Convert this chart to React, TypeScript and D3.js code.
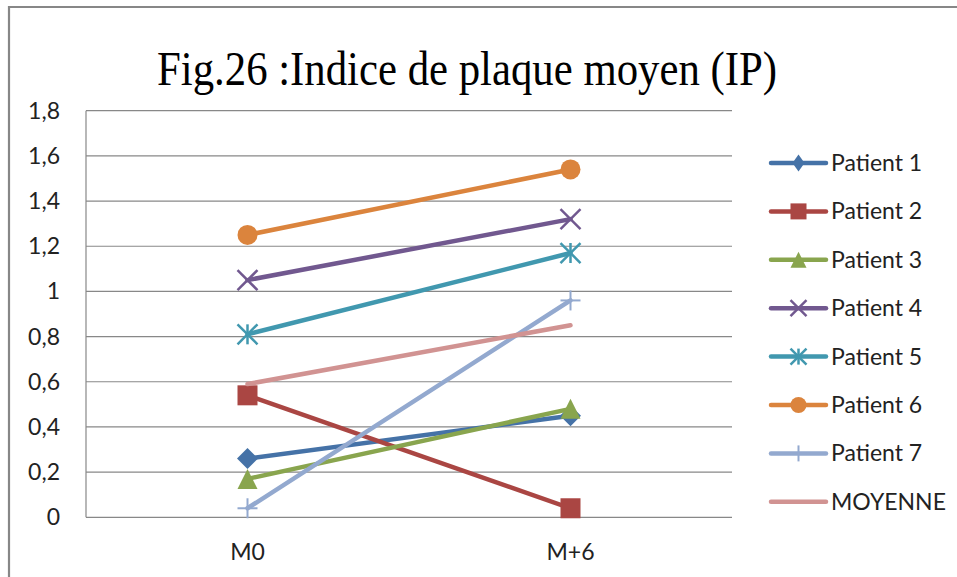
import React from "react";
import * as d3 from "d3";

const categories = ["M0", "M+6"];
const seriesNames = ["Patient 1", "Patient 2", "Patient 3", "Patient 4", "Patient 5", "Patient 6", "Patient 7", "MOYENNE"];
const patient1 = [0.26, 0.45];
const patient2 = [0.54, 0.04];
const patient3 = [0.17, 0.48];
const patient4 = [1.05, 1.32];
const patient5 = [0.81, 1.17];
const patient6 = [1.25, 1.54];
const patient7 = [0.04, 0.96];
const moyenne = [0.59, 0.85];
const yTicks = [0, 0.2, 0.4, 0.6, 0.8, 1, 1.2, 1.4, 1.6, 1.8];
const title = "Fig.26 :Indice de plaque moyen (IP)";

const seriesValues = [patient1, patient2, patient3, patient4, patient5, patient6, patient7, moyenne];
const colors = ["#4572A7", "#AA4643", "#89A54E", "#71588F", "#4198AF", "#DB843D", "#93A9CF", "#D19392"];
const markers = ["diamond", "square", "triangle", "x", "star", "circle", "plus", "none"];

const W = 957, H = 577;
const plot = { left: 86, right: 732, top: 110.7, bottom: 517.3 };

function Marker({ type, x, y, color, s, dw }: { type: string; x: number; y: number; color: string; s: number; dw?: number }) {
  const h = s / 2;
  if (type === "none") return null;
  if (type === "diamond") {
    const hw = dw !== undefined ? dw / 2 : h + 0.5;
    const hh = h + 0.5;
    return <path d={`M${x},${y - hh}L${x + hw},${y}L${x},${y + hh}L${x - hw},${y}Z`} fill={color} />;
  }
  if (type === "square") {
    return <rect x={x - h} y={y - h} width={s} height={s} fill={color} />;
  }
  if (type === "triangle") {
    return <path d={`M${x},${y - h}L${x + h},${y + h}L${x - h},${y + h}Z`} fill={color} />;
  }
  if (type === "circle") {
    return <circle cx={x} cy={y} r={h} fill={color} />;
  }
  if (type === "x") {
    return (
      <g stroke={color} strokeWidth={2.5}>
        <line x1={x - h} y1={y - h} x2={x + h} y2={y + h} />
        <line x1={x - h} y1={y + h} x2={x + h} y2={y - h} />
      </g>
    );
  }
  if (type === "star") {
    return (
      <g stroke={color} strokeWidth={2.5}>
        <line x1={x - h} y1={y - h} x2={x + h} y2={y + h} />
        <line x1={x - h} y1={y + h} x2={x + h} y2={y - h} />
        <line x1={x} y1={y - h} x2={x} y2={y + h} />
      </g>
    );
  }
  if (type === "plus") {
    return (
      <g stroke={color} strokeWidth={2}>
        <line x1={x - h} y1={y} x2={x + h} y2={y} />
        <line x1={x} y1={y - h} x2={x} y2={y + h} />
      </g>
    );
  }
  return null;
}

export default function App() {
  const x = d3.scaleBand<string>().domain(categories).range([plot.left, plot.right]);
  const y = d3.scaleLinear().domain([0, 1.8]).range([plot.bottom, plot.top]);
  const line = d3
    .line<number>()
    .x((_, i) => (x(categories[i]) as number) + x.bandwidth() / 2)
    .y((d) => y(d));
  const fmt = (v: number) => String(+v.toFixed(1)).replace(".", ",");
  const legendX = 771;
  const legendY0 = 163;
  const legendStep = 48.4;

  return (
    <svg width={W} height={H} style={{ position: "absolute", left: 0, top: 0, background: "#fff" }}>
      <rect x={0} y={0} width={W} height={H} fill="#fff" />
      <path d={`M9,${H + 5}V7H${W + 5}`} fill="none" stroke="#878787" strokeWidth={2.2} />
      <text
        x={157}
        y={85}
        fontFamily="'Liberation Serif', 'Times New Roman', serif"
        fontSize={49}
        textLength={620}
        lengthAdjust="spacingAndGlyphs"
        fill="#000"
      >
        {title}
      </text>
      {yTicks.map((t) => (
        <g key={t}>
          <line x1={plot.left} x2={plot.right} y1={y(t)} y2={y(t)} stroke="#888" strokeWidth={1.2} />
          <text
            x={60}
            y={y(t)}
            dy="0.35em"
            textAnchor="end"
            fontFamily="Lato, 'Open Sans', sans-serif"
            fontSize={23}
            fill="#222"
          >
            {fmt(t)}
          </text>
        </g>
      ))}
      <line x1={plot.left} x2={plot.left} y1={plot.top} y2={plot.bottom} stroke="#888" strokeWidth={1.2} />
      {categories.map((c) => (
        <text
          key={c}
          x={(x(c) as number) + x.bandwidth() / 2}
          y={560}
          textAnchor="middle"
          fontFamily="Lato, 'Open Sans', sans-serif"
          fontSize={23}
          fill="#222"
        >
          {c}
        </text>
      ))}
      {seriesValues.map((vals, si) => (
        <g key={seriesNames[si]}>
          <path d={line(vals) || ""} fill="none" stroke={colors[si]} strokeWidth={4.5} strokeLinecap="round" />
          {vals.map((v, i) => (
            <Marker
              key={i}
              type={markers[si]}
              x={(x(categories[i]) as number) + x.bandwidth() / 2}
              y={y(v)}
              color={colors[si]}
              s={20}
            />
          ))}
        </g>
      ))}
      {seriesNames.map((n, si) => {
        const ly = legendY0 + si * legendStep;
        return (
          <g key={n}>
            <line x1={legendX} x2={826} y1={ly} y2={ly} stroke={colors[si]} strokeWidth={4.5} strokeLinecap="round" />
            <Marker type={markers[si]} x={798.5} y={ly} color={colors[si]} s={16} dw={12} />
            <text x={831} y={ly} dy="0.35em" fontFamily="Lato, 'Open Sans', sans-serif" fontSize={23} fill="#222">
              {n}
            </text>
          </g>
        );
      })}
    </svg>
  );
}
